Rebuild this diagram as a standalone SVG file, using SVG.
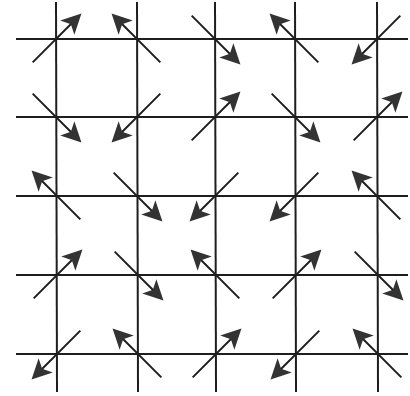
<svg xmlns="http://www.w3.org/2000/svg" width="410" height="396" viewBox="0 0 410 396">
<style>
.g{stroke:#1e1e1e;stroke-width:2;fill:none}
.a{stroke:#1e1e1e;stroke-width:2;fill:none;marker-end:url(#h)}
</style>
<defs>
<marker id="h" markerUnits="userSpaceOnUse" markerWidth="22" markerHeight="22" refX="14" refY="10" orient="auto" overflow="visible">
<path d="M0,0 L20,10 L0,20 L5,10 Z" fill="#333"/>
</marker>
<line id="arr" class="a" x1="-33" y1="0" x2="30" y2="0"/>
</defs>
<rect width="410" height="396" fill="#fff"/>
<g id="connectors">
<line class="g" x1="56" y1="2" x2="57" y2="392"/>
<line class="g" x1="137" y1="2" x2="138" y2="392"/>
<line class="g" x1="215" y1="2" x2="216" y2="392"/>
<line class="g" x1="295" y1="2" x2="296" y2="392"/>
<line class="g" x1="377" y1="2" x2="378" y2="392"/>
<line class="g" x1="16" y1="39" x2="408" y2="39"/>
<line class="g" x1="16" y1="117" x2="408" y2="117"/>
<line class="g" x1="16" y1="196" x2="408" y2="196"/>
<line class="g" x1="16" y1="275" x2="408" y2="275"/>
<line class="g" x1="16" y1="354" x2="408" y2="354"/>
</g>
<g id="n00" transform="translate(56,39) rotate(-45)"><use href="#arr"/></g>
<g id="n01" transform="translate(137,39) rotate(-135)"><use href="#arr"/></g>
<g id="n02" transform="translate(215,39) rotate(45)"><use href="#arr"/></g>
<g id="n03" transform="translate(295,39) rotate(-135)"><use href="#arr"/></g>
<g id="n04" transform="translate(377,39) rotate(135)"><use href="#arr"/></g>
<g id="n10" transform="translate(56,117) rotate(45)"><use href="#arr"/></g>
<g id="n11" transform="translate(137,117) rotate(135)"><use href="#arr"/></g>
<g id="n12" transform="translate(215,117) rotate(-45)"><use href="#arr"/></g>
<g id="n13" transform="translate(295,117) rotate(45)"><use href="#arr"/></g>
<g id="n14" transform="translate(377,117) rotate(-45)"><use href="#arr"/></g>
<g id="n20" transform="translate(57,196) rotate(-135)"><use href="#arr"/></g>
<g id="n21" transform="translate(137,196) rotate(45)"><use href="#arr"/></g>
<g id="n22" transform="translate(215,196) rotate(135)"><use href="#arr"/></g>
<g id="n23" transform="translate(295,196) rotate(135)"><use href="#arr"/></g>
<g id="n24" transform="translate(377,196) rotate(-135)"><use href="#arr"/></g>
<g id="n30" transform="translate(57,275) rotate(-45)"><use href="#arr"/></g>
<g id="n31" transform="translate(138,275) rotate(45)"><use href="#arr"/></g>
<g id="n32" transform="translate(216,275) rotate(-135)"><use href="#arr"/></g>
<g id="n33" transform="translate(296,275) rotate(-45)"><use href="#arr"/></g>
<g id="n34" transform="translate(378,275) rotate(45)"><use href="#arr"/></g>
<g id="n40" transform="translate(57,354) rotate(135)"><use href="#arr"/></g>
<g id="n41" transform="translate(138,354) rotate(-135)"><use href="#arr"/></g>
<g id="n42" transform="translate(216,354) rotate(-45)"><use href="#arr"/></g>
<g id="n43" transform="translate(296,354) rotate(135)"><use href="#arr"/></g>
<g id="n44" transform="translate(378,354) rotate(-135)"><use href="#arr"/></g>
</svg>
